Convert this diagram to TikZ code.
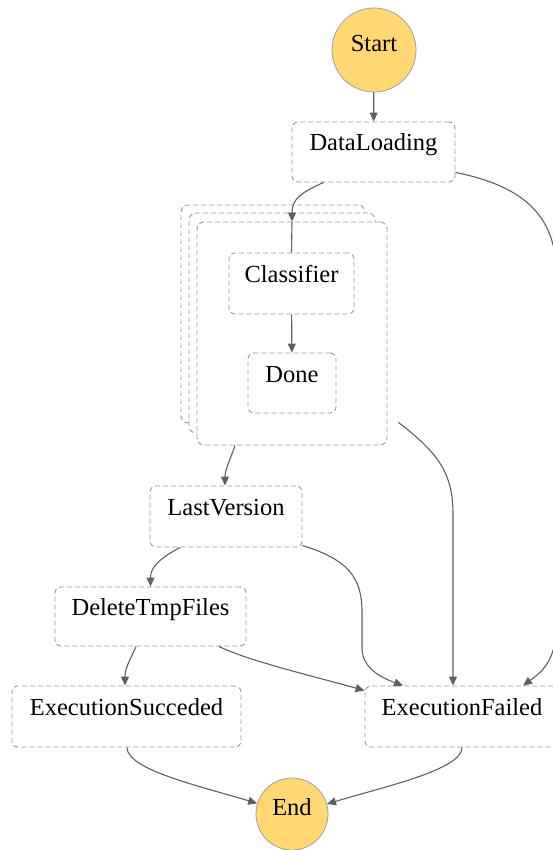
\documentclass[tikz,border=0pt]{standalone}
\usepackage{fontspec}
\setmainfont{Liberation Serif}
\usetikzlibrary{arrows.meta}
\definecolor{boxgray}{HTML}{9A9A9A}
\definecolor{edgegray}{HTML}{5F5F5F}
\definecolor{termfill}{HTML}{FFD873}
\definecolor{circgray}{HTML}{A0A0A0}
\newcommand{\lblfont}{\fontsize{24.5}{29}\selectfont}
\tikzset{
  stbox/.style={draw=boxgray, fill=white, dash pattern=on 5pt off 3pt, rounded corners=6pt,
    line width=0.9pt, inner sep=0pt, text height=16pt, text depth=18pt, font=\lblfont},
  mapbox/.style={draw=boxgray, fill=white, dash pattern=on 5pt off 3pt, rounded corners=7pt,
    line width=0.9pt, inner sep=0pt},
  term/.style={circle, draw=circgray, fill=termfill, line width=0.8pt, inner sep=0pt,
    text height=12pt, text depth=9pt, font=\lblfont},
  edge/.style={draw=edgegray, line width=1.1pt, -{Triangle[length=9pt,width=8pt]}},
  plainedge/.style={draw=edgegray, line width=1.1pt}
}
\begin{document}
\begin{tikzpicture}[x=1pt,y=-1pt]
\useasboundingbox (0,0) rectangle (553,850);
% map container (stacked)
\node[mapbox, minimum width=184pt, minimum height=218pt] (mapb2) at (273,314) {};
\node[mapbox, minimum width=186pt, minimum height=220pt] (mapb1) at (282,323) {};
\node[mapbox, minimum width=190pt, minimum height=223pt] (map) at (292,333.5) {};
% states
\node[term, minimum size=84pt] (start) at (374,50) {Start};
\node[stbox, minimum width=163pt, minimum height=60pt] (dl) at (373.5,152) {DataLoading};
\node[stbox, minimum width=125pt, minimum height=61pt] (cls) at (291.5,283.5) {Classifier};
\node[stbox, minimum width=88pt, minimum height=60pt] (done) at (292,383) {Done};
\node[stbox, minimum width=152pt, minimum height=61pt] (lv) at (226,516.5) {LastVersion};
\node[stbox, minimum width=191pt, minimum height=59pt] (dtf) at (150.5,616.5) {DeleteTmpFiles};
\node[stbox, minimum width=229pt, minimum height=61pt] (succ) at (126.5,716.5) {ExecutionSucceded};
\node[stbox, minimum width=194pt, minimum height=61pt] (failed) at (462,716.5) {ExecutionFailed};
\node[term, minimum size=72pt] (end) at (292,814) {End};
% edges
\draw[edge] (start) -- (dl);
\draw[edge] ([xshift=-50pt]dl.south) .. controls +(-24,11) and +(0,-22) .. (map.north);
\draw[plainedge] (map.north) -- (cls.north);
\draw[edge] (cls) -- (done);
\draw[edge] ([yshift=10pt]dl.south east) .. controls +(80,16) and +(0,-55) .. (557,280)
   -- (557,615) .. controls +(0,40) and +(25,-18) .. ([xshift=61pt]failed.north);
\draw[edge] ([xshift=11pt,yshift=23pt]map.south east) .. controls +(42,32) and +(0,-40) .. (453,515)
   -- ([xshift=-9pt]failed.north);
\draw[edge] ([xshift=-57pt]map.south) .. controls +(-5,15) and +(0,-16) .. ([xshift=-1pt]lv.north);
\draw[edge] ([xshift=-46pt]lv.south) .. controls +(-20,11) and +(0,-20) .. (dtf.north);
\draw[edge] ([yshift=2pt]lv.south east) .. controls +(45,14) and +(0,-35) .. (362,612)
   -- (362,648) .. controls +(0,20) and +(-22,-8) .. ([xshift=-59pt]failed.north);
\draw[edge] ([xshift=-14.5pt]dtf.south) .. controls +(-6,14) and +(0,-18) .. ([xshift=-1.5pt]succ.north);
\draw[edge] ([xshift=68.5pt]dtf.south) .. controls +(28,14) and +(-50,-14) .. ([yshift=-5pt]failed.north west);
\draw[edge] ([xshift=0.5pt]succ.south) .. controls +(0,22) and +(-60,-18) .. (end.163);
\draw[edge] (failed.south) .. controls +(0,22) and +(60,-18) .. (end.16);
\end{tikzpicture}
\end{document}
